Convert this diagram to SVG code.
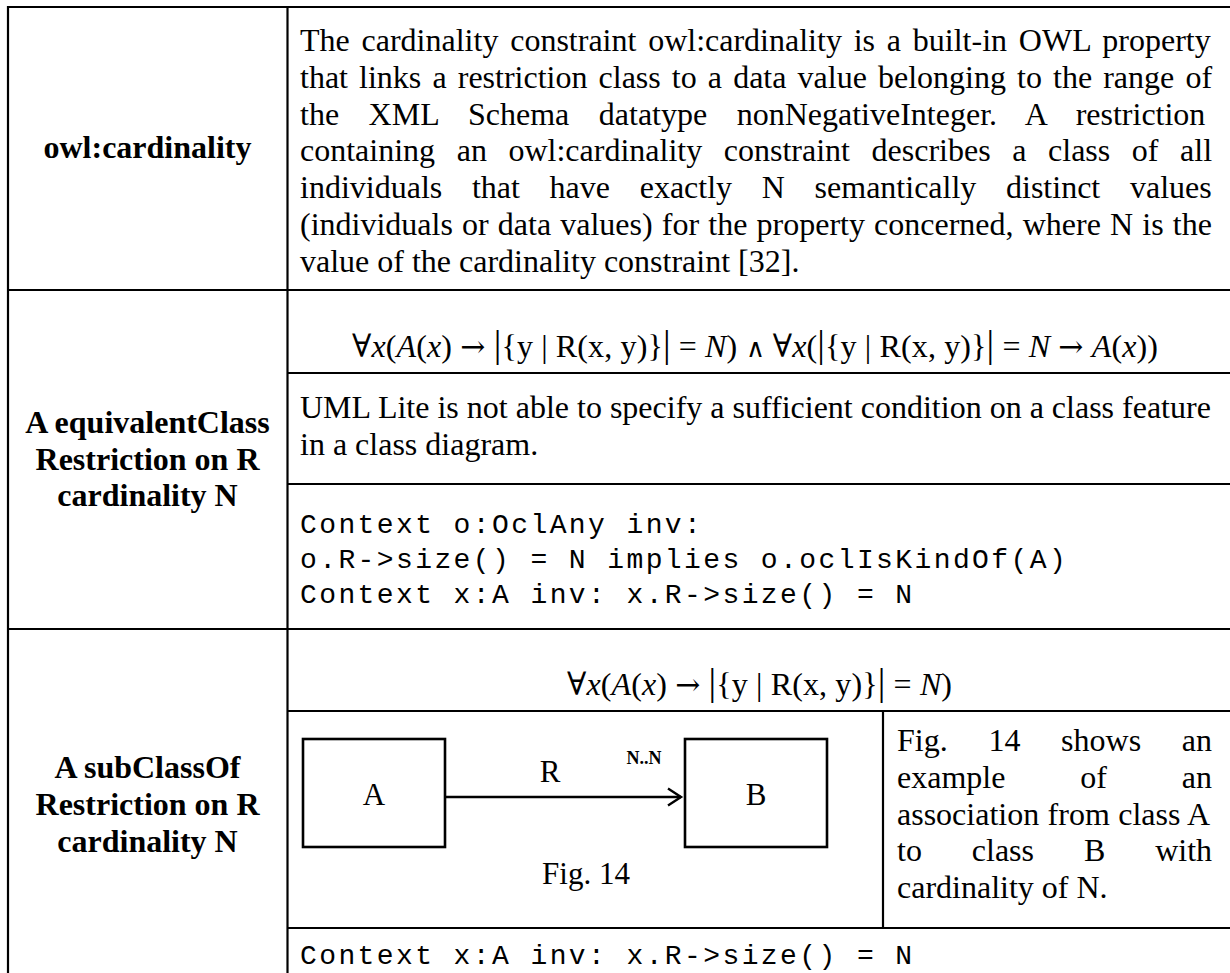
<svg xmlns="http://www.w3.org/2000/svg" width="1230" height="973" viewBox="0 0 1230 973">
  <style>
    .grid { stroke: #000; stroke-width: 2.2; fill: none; }
    .body { font-family: "Liberation Serif", "Times New Roman", serif; font-size: 32px; fill: #000; }
    .label { font-family: "Liberation Serif", "Times New Roman", serif; font-size: 32px; font-weight: bold; fill: #000; text-anchor: middle; }
    /* Courier-sized glyphs on a 19.2px advance */
    .mono { font-family: "Liberation Mono", "Courier New", monospace; font-size: 28px; letter-spacing: 2.4px; fill: #000; }
    .math { font-family: "Liberation Serif", "DejaVu Serif", serif; font-size: 32px; fill: #000; }
    .it { font-style: italic; }
    .bar { font-size: 38px; }
    .sym { font-family: "DejaVu Serif", serif; font-size: 30px; }
    .wedge { font-family: "DejaVu Sans ExtraLight", "DejaVu Sans", sans-serif; font-size: 26px; font-weight: 200; }
    .box { fill: #fff; stroke: #000; stroke-width: 2.6; }
    .fig { font-family: "Liberation Serif", "Times New Roman", serif; font-size: 31px; fill: #000; text-anchor: middle; }
    .mult { font-family: "Liberation Serif", "Times New Roman", serif; font-size: 18px; font-weight: bold; fill: #000; text-anchor: middle; }
    .assoc { stroke: #000; stroke-width: 2.4; fill: none; }
  </style>
  <rect width="1230" height="973" fill="#fff"/>

  <!-- table rules -->
  <g id="table-grid" class="grid">
    <line x1="8" y1="7" x2="1230" y2="7"/>
    <line x1="8" y1="6" x2="8" y2="973"/>
    <line x1="287.5" y1="7" x2="287.5" y2="973"/>
    <line x1="8" y1="290" x2="1230" y2="290"/>
    <line x1="287.5" y1="373" x2="1230" y2="373"/>
    <line x1="287.5" y1="484" x2="1230" y2="484"/>
    <line x1="8" y1="629" x2="1230" y2="629"/>
    <line x1="287.5" y1="711" x2="1230" y2="711"/>
    <line x1="883" y1="711" x2="883" y2="928"/>
    <line x1="287.5" y1="928" x2="1230" y2="928"/>
  </g>

  <!-- row 1 -->
  <g id="label-cardinality">
    <text class="label" x="147.5" y="158">owl:cardinality</text>
  </g>
  <g id="desc-cardinality" class="body">
    <text x="300" y="51" word-spacing="3.8">The cardinality constraint owl:cardinality is a built-in OWL property</text>
    <text x="300" y="87.8" word-spacing="3.1">that links a restriction class to a data value belonging to the range of</text>
    <text x="300" y="124.6" word-spacing="21.5">the XML Schema datatype nonNegativeInteger. A restriction</text>
    <text x="300" y="161.4" word-spacing="13.6">containing an owl:cardinality constraint describes a class of all</text>
    <text x="300" y="198.2" word-spacing="21.7">individuals that have exactly N semantically distinct values</text>
    <text x="300" y="235" word-spacing="1.15">(individuals or data values) for the property concerned, where N is the</text>
    <text x="300" y="271.8">value of the cardinality constraint [32].</text>
  </g>

  <!-- row 2 -->
  <g id="label-equivalent">
    <text class="label" x="147.5" y="433">A equivalentClass</text>
    <text class="label" x="147.5" y="470">Restriction on R</text>
    <text class="label" x="147.5" y="506">cardinality N</text>
  </g>
  <g id="formula-equivalent">
    <text class="math" x="352" y="357" textLength="806" lengthAdjust="spacing">∀<tspan class="it">x</tspan>(<tspan class="it">A</tspan>(<tspan class="it">x</tspan>) <tspan class="sym">→</tspan> <tspan class="bar">|</tspan>{y | R(x, y)}<tspan class="bar">|</tspan> = <tspan class="it">N</tspan>) <tspan class="wedge">∧</tspan> ∀<tspan class="it">x</tspan>(<tspan class="bar">|</tspan>{y | R(x, y)}<tspan class="bar">|</tspan> = <tspan class="it">N</tspan> <tspan class="sym">→</tspan> <tspan class="it">A</tspan>(<tspan class="it">x</tspan>))</text>
  </g>
  <g id="uml-note" class="body">
    <text x="300" y="418">UML Lite is not able to specify a sufficient condition on a class feature</text>
    <text x="300" y="454.8">in a class diagram.</text>
  </g>
  <g id="ocl-equivalent" class="mono">
    <text x="300" y="533">Context o:OclAny inv:</text>
    <text x="300" y="568">o.R-&gt;size() = N implies o.oclIsKindOf(A)</text>
    <text x="300" y="603">Context x:A inv: x.R-&gt;size() = N</text>
  </g>

  <!-- row 3 -->
  <g id="label-subclass">
    <text class="label" x="147.5" y="778">A subClassOf</text>
    <text class="label" x="147.5" y="815">Restriction on R</text>
    <text class="label" x="147.5" y="852">cardinality N</text>
  </g>
  <g id="formula-subclass">
    <text class="math" x="567" y="695" textLength="385" lengthAdjust="spacing">∀<tspan class="it">x</tspan>(<tspan class="it">A</tspan>(<tspan class="it">x</tspan>) <tspan class="sym">→</tspan> <tspan class="bar">|</tspan>{y | R(x, y)}<tspan class="bar">|</tspan> = <tspan class="it">N</tspan>)</text>
  </g>

  <!-- Fig. 14: association A to B -->
  <g id="class-A">
    <rect class="box" x="303" y="739" width="142" height="108"/>
    <text class="fig" x="374" y="805">A</text>
  </g>
  <g id="class-B">
    <rect class="box" x="685" y="739" width="142" height="108"/>
    <text class="fig" x="756" y="805">B</text>
  </g>
  <g id="connectors">
    <line class="assoc" x1="445" y1="797" x2="681" y2="797"/>
    <polyline class="assoc" points="668,788.5 681,797 668,805.5"/>
    <text class="fig" x="550" y="782">R</text>
    <text class="mult" x="644" y="764">N..N</text>
  </g>
  <g id="fig-caption">
    <text class="fig" x="586" y="884">Fig. 14</text>
  </g>
  <g id="fig-note" class="body">
    <text x="897" y="751" word-spacing="32.7">Fig. 14 shows an</text>
    <text x="897" y="787.8" word-spacing="66.9">example of an</text>
    <text x="897" y="824.6" word-spacing="0.4">association from class A</text>
    <text x="897" y="861.4" word-spacing="41.9">to class B with</text>
    <text x="897" y="898.2">cardinality of N.</text>
  </g>
  <g id="ocl-subclass" class="mono">
    <text x="300" y="964">Context x:A inv: x.R-&gt;size() = N</text>
  </g>
</svg>
